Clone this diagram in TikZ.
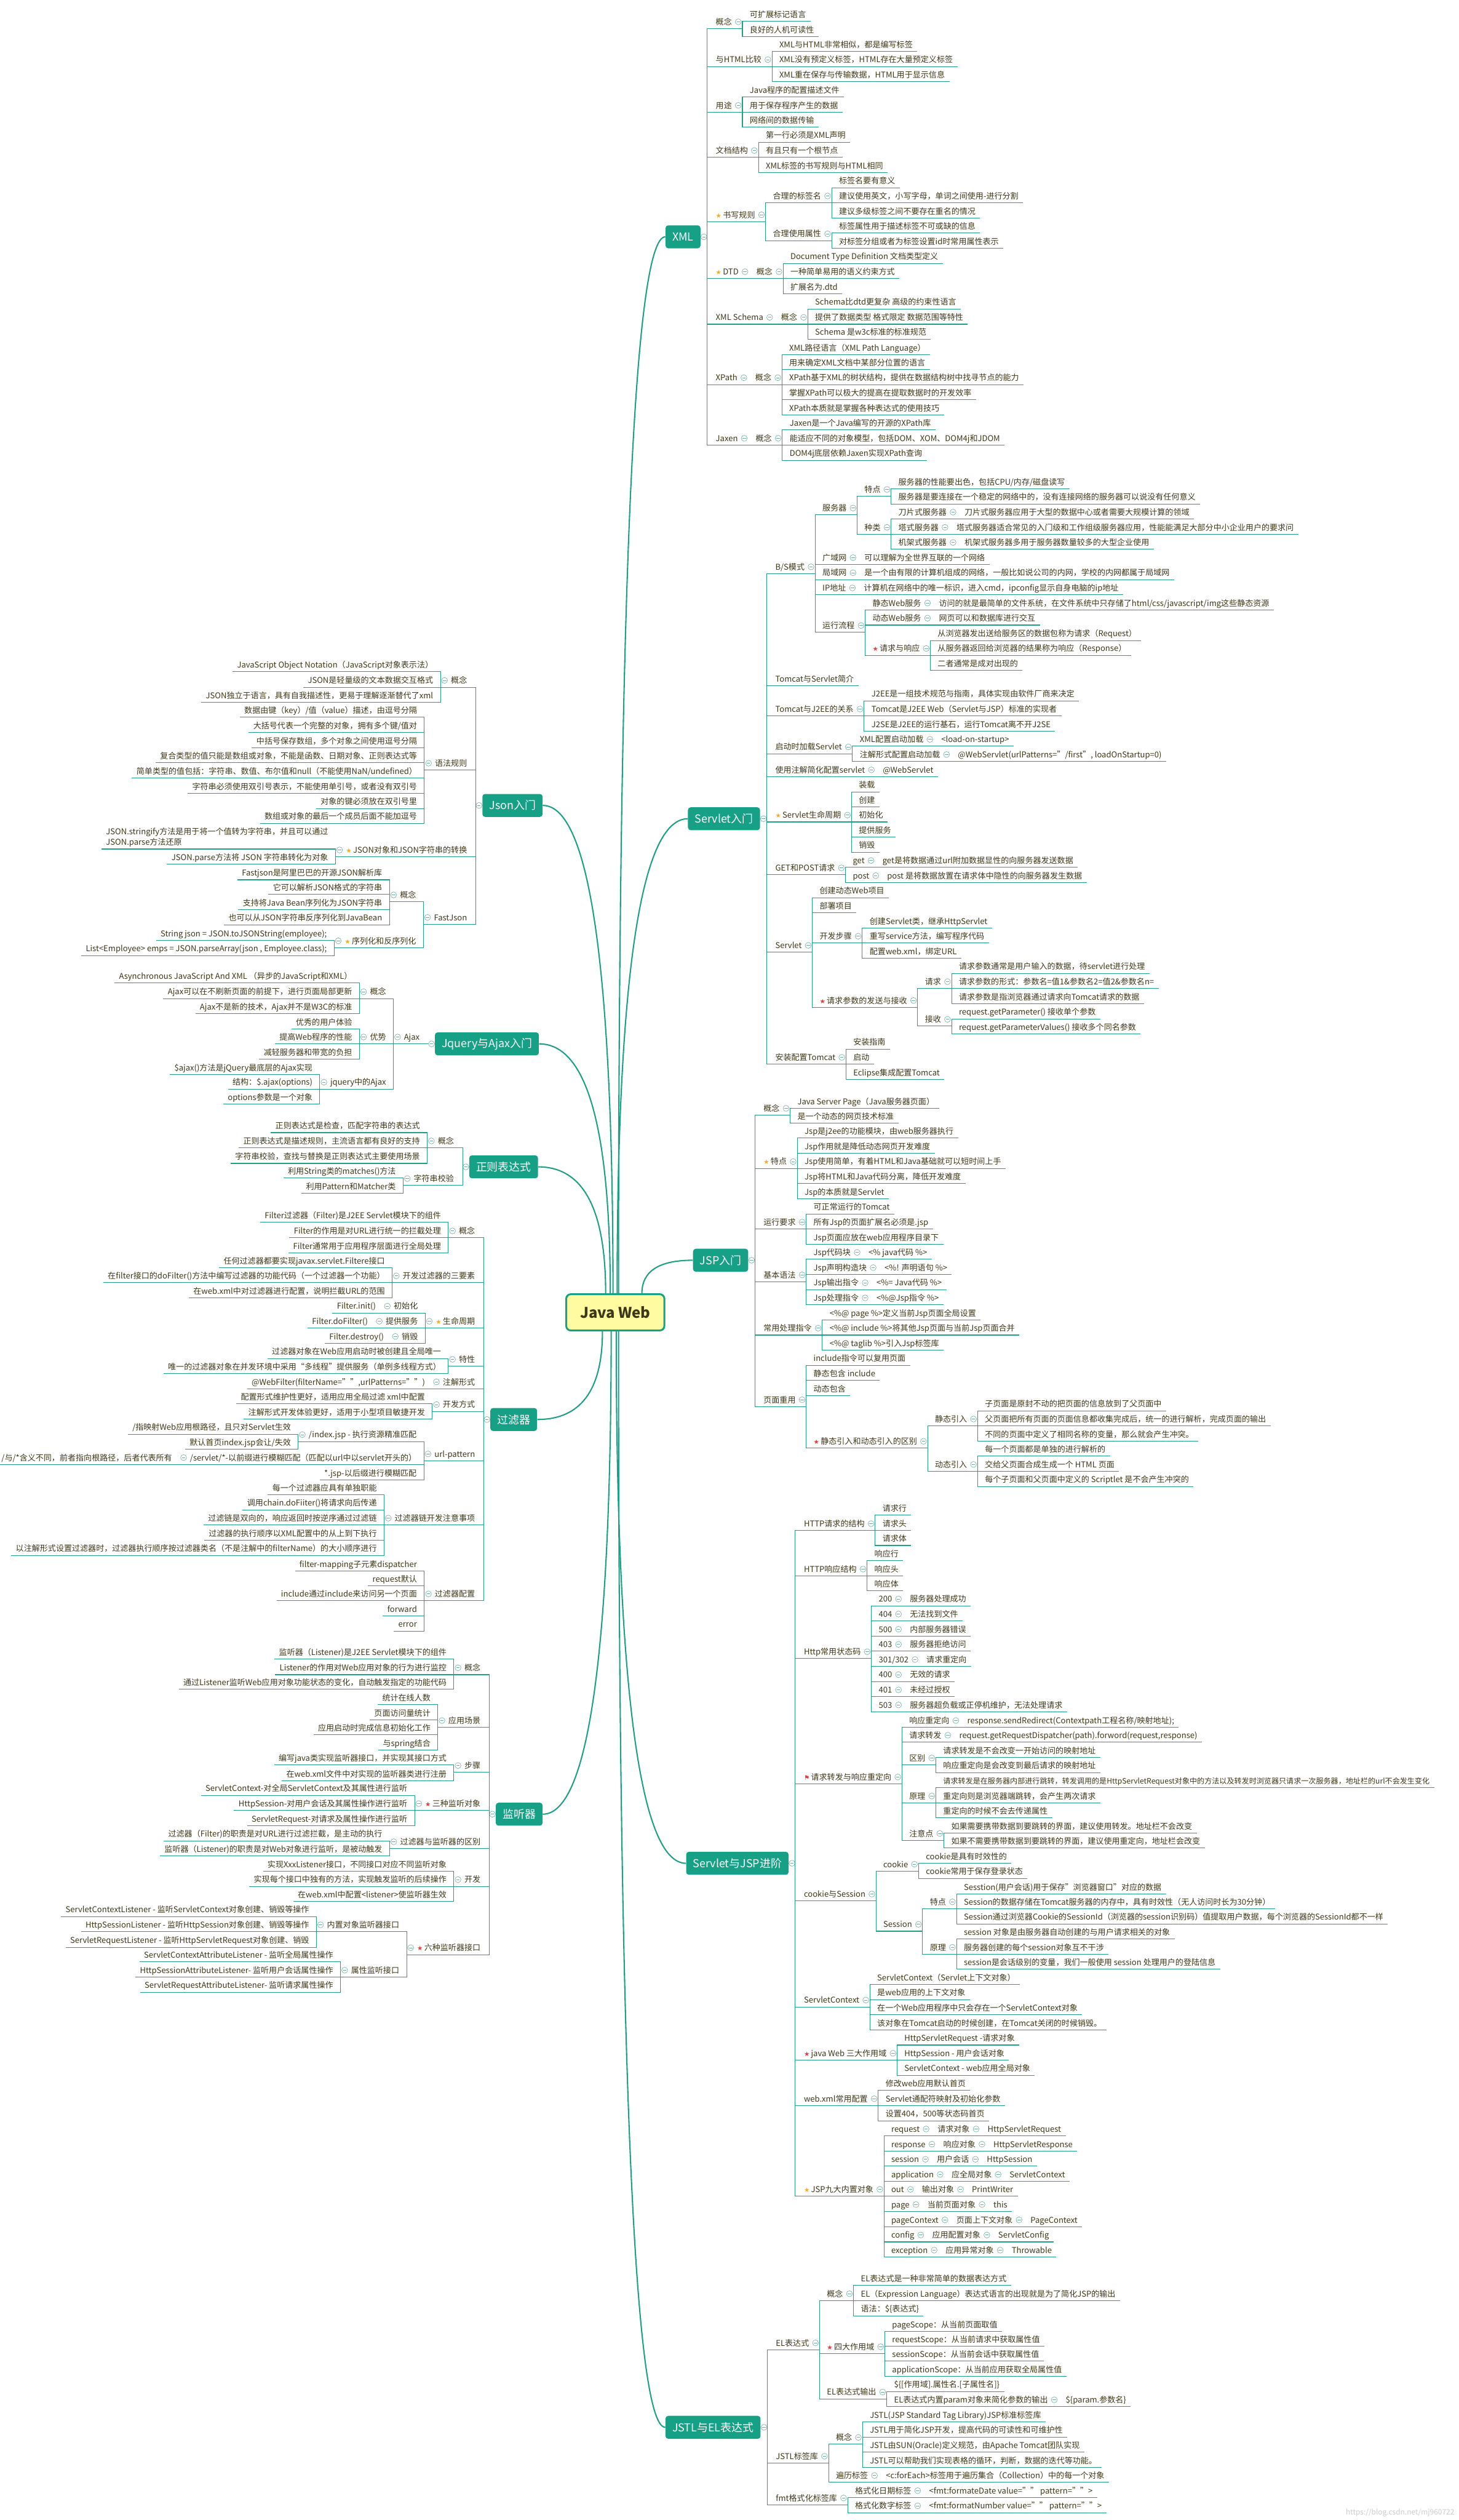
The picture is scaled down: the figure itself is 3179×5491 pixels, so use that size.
\documentclass[tikz,border=0pt]{standalone}
\usepackage{fontspec}
\setmainfont{Noto Sans CJK SC}
\newfontfamily\symfont{DejaVu Sans}
\usetikzlibrary{calc}
\definecolor{boxc}{RGB}{22,160,133}
\definecolor{lnc}{RGB}{30,160,135}
\definecolor{txc}{RGB}{62,56,26}
\definecolor{cenfill}{RGB}{255,251,160}
\definecolor{cirl}{RGB}{110,172,160}
\definecolor{starO}{RGB}{246,170,30}
\definecolor{starR}{RGB}{230,60,60}
\newcommand\StarO{{\symfont\fontsize{7pt}{8pt}\selectfont\color{starO}★}\hspace{1.5pt}}
\newcommand\StarR{{\symfont\fontsize{7pt}{8pt}\selectfont\color{starR}★}\hspace{1.5pt}}
\newcommand\FlagR{{\symfont\fontsize{7pt}{8pt}\selectfont\color{starR}⚑}\hspace{1.5pt}}
\tikzset{
  txt/.style={inner sep=0pt, outer sep=0pt, text=txc, font=\fontsize{8.75pt}{11.8pt}\selectfont},
  uline/.style={draw=lnc, line width=0.7pt},
  curv/.style={draw=lnc, line width=1.4pt},
  circ/.style={circle, draw=cirl, fill=white, line width=0.4pt, minimum size=6.5pt, inner sep=0pt,
     path picture={\draw[cirl, line width=0.45pt] ([xshift=1.4pt]path picture bounding box.west) -- ([xshift=-1.4pt]path picture bounding box.east);}},
  brbox/.style={rounded corners=3pt, fill=boxc, text=white, font=\fontsize{12pt}{14pt}\selectfont, minimum height=25pt, inner xsep=7.5pt, inner ysep=0pt},
  hub/.style={draw=boxc, line width=2pt, fill=cenfill, rounded corners=5pt, minimum width=107pt, minimum height=39.5pt, font=\bfseries\fontsize{16pt}{18pt}\selectfont, text=txc}
}
% right side
\newcommand\RBox[4]{%
  \node[brbox, anchor=west] (#1) at (#2,#3) {#4};
  \draw[uline] (#1.east) -- ++(14,0) coordinate (#1-j);
  \node[circ] (#1-c) at ($(#1.east)+(7,0)$) {};
  \coordinate (#1-tx) at ($(#1.east)+(33,0)$);}
\newcommand\RNode[4]{\node[txt, anchor=base west] (#1) at (#2-tx|-0,#3-8.4) {#4};}
\newcommand\RLe[4]{\RNode{#1}{#2}{#3}{#4}%
  \draw[uline] (#2-j) |- ($(#1.base east)+(10,8.4)$);}
\newcommand\RPa[4]{\RNode{#1}{#2}{#3}{#4}%
  \coordinate (#1-j) at ($(#1.base east)+(23,8.4)$);
  \coordinate (#1-tx) at ($(#1.base east)+(39,0)$);
  \draw[uline] (#2-j) |- (#1-j);
  \node[circ] (#1-c) at ($(#1.base east)+(14,-6.6)$) {};}
% left side
\newcommand\LBox[4]{%
  \node[brbox, anchor=east] (#1) at (#2,#3) {#4};
  \draw[uline] (#1.west) -- ++(-14,0) coordinate (#1-j);
  \node[circ] (#1-c) at ($(#1.west)+(-7,0)$) {};
  \coordinate (#1-tx) at ($(#1.west)+(-33,0)$);}
\newcommand\LNode[4]{\node[txt, anchor=base east] (#1) at (#2-tx|-0,#3-8.4) {#4};}
\newcommand\LLe[4]{\LNode{#1}{#2}{#3}{#4}%
  \draw[uline] (#2-j) |- ($(#1.base west)+(-10,8.4)$);}
\newcommand\LPa[4]{\LNode{#1}{#2}{#3}{#4}%
  \coordinate (#1-j) at ($(#1.base west)+(-23,8.4)$);
  \coordinate (#1-tx) at ($(#1.base west)+(-39,0)$);
  \draw[uline] (#2-j) |- (#1-j);
  \node[circ] (#1-c) at ($(#1.base west)+(-14,-6.6)$) {};}
\newcommand\Curve[2]{\draw[curv] (#1) .. controls ($(#1)!0.6667!(#1|-#2)$) and ($(#2)!0.6667!(#1|-#2)$) .. (#2);}
\begin{document}
\begin{tikzpicture}[x=0.5pt,y=-0.5pt]
\useasboundingbox (0,0) rectangle (3179,5491);
\fill[white] (0,0) rectangle (3179,5491);
% center
\node[hub] (jw) at (1341,2859.5) {Java Web};
\coordinate (t1) at ($(jw.north)+(7,0)$);
\coordinate (t2) at ($(jw.north)+(4,0)$);
\coordinate (t3) at ($(jw.north)+(58,0)$);
\coordinate (t4) at ($(jw.north)+(-5,0)$);
\coordinate (t5) at ($(jw.north)+(-11,0)$);
\coordinate (t6) at ($(jw.north)+(-21,0)$);
\coordinate (b1) at ($(jw.south)+(-28,0)$);
\coordinate (b2) at ($(jw.south)+(-9,0)$);
\coordinate (b3) at ($(jw.south)+(2,0)$);
\coordinate (b4) at ($(jw.south)+(7,0)$);

% ================= XML =================
\RBox{xml}{1450}{516}{XML}
\RPa{x1}{xml}{62.5}{概念}
 \RLe{x1a}{x1}{46}{可扩展标记语言}
 \RLe{x1b}{x1}{79.5}{良好的人机可读性}
\RPa{x2}{xml}{145}{与HTML比较}
 \RLe{x2a}{x2}{112}{XML与HTML非常相似，都是编写标签}
 \RLe{x2b}{x2}{145}{XML没有预定义标签，HTML存在大量预定义标签}
 \RLe{x2c}{x2}{178}{XML重在保存与传输数据，HTML用于显示信息}
\RPa{x3}{xml}{244.6}{用途}
 \RLe{x3a}{x3}{211}{Java程序的配置描述文件}
 \RLe{x3b}{x3}{244.6}{用于保存程序产生的数据}
 \RLe{x3c}{x3}{277}{网络间的数据传输}
\RPa{x4}{xml}{343}{文档结构}
 \RLe{x4a}{x4}{310}{第一行必须是XML声明}
 \RLe{x4b}{x4}{343}{有且只有一个根节点}
 \RLe{x4c}{x4}{376}{XML标签的书写规则与HTML相同}
\RPa{x5}{xml}{483}{\StarO 书写规则}
 \RPa{x5a}{x5}{442}{合理的标签名}
  \RLe{x5a1}{x5a}{409}{标签名要有意义}
  \RLe{x5a2}{x5a}{442}{建议使用英文，小写字母，单词之间使用-进行分割}
  \RLe{x5a3}{x5a}{475}{建议多级标签之间不要存在重名的情况}
 \RPa{x5b}{x5}{524.5}{合理使用属性}
  \RLe{x5b1}{x5b}{508}{标签属性用于描述标签不可或缺的信息}
  \RLe{x5b2}{x5b}{541}{对标签分组或者为标签设置id时常用属性表示}
\RPa{x6}{xml}{607}{\StarO DTD}
 \RPa{x6a}{x6}{607}{概念}
  \RLe{x6a1}{x6a}{574}{Document Type Definition 文档类型定义}
  \RLe{x6a2}{x6a}{607}{一种简单易用的语义约束方式}
  \RLe{x6a3}{x6a}{640}{扩展名为.dtd}
\RPa{x7}{xml}{706.5}{XML Schema}
 \RPa{x7a}{x7}{706.5}{概念}
  \RLe{x7a1}{x7a}{673}{Schema比dtd更复杂 高级的约束性语言}
  \RLe{x7a2}{x7a}{706.5}{提供了数据类型 格式限定 数据范围等特性}
  \RLe{x7a3}{x7a}{739}{Schema 是w3c标准的标准规范}
\RPa{x8}{xml}{838}{XPath}
 \RPa{x8a}{x8}{838}{概念}
  \RLe{x8a1}{x8a}{772.6}{XML路径语言（XML Path Language）}
  \RLe{x8a2}{x8a}{805}{用来确定XML文档中某部分位置的语言}
  \RLe{x8a3}{x8a}{838}{XPath基于XML的树状结构，提供在数据结构树中找寻节点的能力}
  \RLe{x8a4}{x8a}{871}{掌握XPath可以极大的提高在提取数据时的开发效率}
  \RLe{x8a5}{x8a}{904}{XPath本质就是掌握各种表达式的使用技巧}
\RPa{x9}{xml}{970}{Jaxen}
 \RPa{x9a}{x9}{970}{概念}
  \RLe{x9a1}{x9a}{937}{Jaxen是一个Java编写的开源的XPath库}
  \RLe{x9a2}{x9a}{970}{能适应不同的对象模型，包括DOM、XOM、DOM4j和JDOM}
  \RLe{x9a3}{x9a}{1003}{DOM4j底层依赖Jaxen实现XPath查询}

% ================= Servlet入门 =================
\RBox{srv}{1499}{1784}{Servlet入门}
\RPa{s1}{srv}{1250}{B/S模式}
 \RPa{s1a}{s1}{1122}{服务器}
  \RPa{s1a1}{s1a}{1081.5}{特点}
   \RLe{s1a1a}{s1a1}{1065}{服务器的性能要出色，包括CPU/内存/磁盘读写}
   \RLe{s1a1b}{s1a1}{1098}{服务器是要连接在一个稳定的网络中的，没有连接网络的服务器可以说没有任何意义}
  \RPa{s1a2}{s1a}{1164}{种类}
   \RPa{s1a2a}{s1a2}{1131}{刀片式服务器}
    \RLe{s1a2a1}{s1a2a}{1131}{刀片式服务器应用于大型的数据中心或者需要大规模计算的领域}
   \RPa{s1a2b}{s1a2}{1164}{塔式服务器}
    \RLe{s1a2b1}{s1a2b}{1164}{塔式服务器适合常见的入门级和工作组级服务器应用，性能能满足大部分中小企业用户的要求问}
   \RPa{s1a2c}{s1a2}{1197}{机架式服务器}
    \RLe{s1a2c1}{s1a2c}{1197}{机架式服务器多用于服务器数量较多的大型企业使用}
 \RPa{s1b}{s1}{1230}{广域网}
  \RLe{s1b1}{s1b}{1230}{可以理解为全世界互联的一个网络}
 \RPa{s1c}{s1}{1263}{局域网}
  \RLe{s1c1}{s1c}{1263}{是一个由有限的计算机组成的网络，一般比如说公司的内网，学校的内网都属于局域网}
 \RPa{s1d}{s1}{1296}{IP地址}
  \RLe{s1d1}{s1d}{1296}{计算机在网络中的唯一标识，进入cmd，ipconfig显示自身电脑的ip地址}
 \RPa{s1e}{s1}{1378}{运行流程}
  \RPa{s1e1}{s1e}{1329}{静态Web服务}
   \RLe{s1e1a}{s1e1}{1329}{访问的就是最简单的文件系统，在文件系统中只存储了html/css/javascript/img这些静态资源}
  \RPa{s1e2}{s1e}{1362}{动态Web服务}
   \RLe{s1e2a}{s1e2}{1362}{网页可以和数据库进行交互}
  \RPa{s1e3}{s1e}{1428}{\StarR 请求与响应}
   \RLe{s1e3a}{s1e3}{1395.6}{从浏览器发出送给服务区的数据包称为请求（Request）}
   \RLe{s1e3b}{s1e3}{1428}{从服务器返回给浏览器的结果称为响应（Response）}
   \RLe{s1e3c}{s1e3}{1461}{二者通常是成对出现的}
\RLe{s2}{srv}{1494}{Tomcat与Servlet简介}
\RPa{s3}{srv}{1560}{Tomcat与J2EE的关系}
 \RLe{s3a}{s3}{1527}{J2EE是一组技术规范与指南，具体实现由软件厂商来决定}
 \RLe{s3b}{s3}{1560}{Tomcat是J2EE Web（Servlet与JSP）标准的实现者}
 \RLe{s3c}{s3}{1593}{J2SE是J2EE的运行基石，运行Tomcat离不开J2SE}
\RPa{s4}{srv}{1642.5}{启动时加载Servlet}
 \RPa{s4a}{s4}{1626}{XML配置启动加载}
  \RLe{s4a1}{s4a}{1626}{<load-on-startup>}
 \RPa{s4b}{s4}{1659}{注解形式配置启动加载}
  \RLe{s4b1}{s4b}{1659}{@WebServlet(urlPatterns="/first", loadOnStartup=0)}
\RPa{s5}{srv}{1692.5}{使用注解简化配置servlet}
 \RLe{s5a}{s5}{1692.5}{@WebServlet}
\RPa{s6}{srv}{1791}{\StarO Servlet生命周期}
 \RLe{s6a}{s6}{1725.5}{装载}
 \RLe{s6b}{s6}{1758.5}{创建}
 \RLe{s6c}{s6}{1791}{初始化}
 \RLe{s6d}{s6}{1824}{提供服务}
 \RLe{s6e}{s6}{1857}{销毁}
\RPa{s7}{srv}{1906}{GET和POST请求}
 \RPa{s7a}{s7}{1890}{get}
  \RLe{s7a1}{s7a}{1890}{get是将数据通过url附加数据显性的向服务器发送数据}
 \RPa{s7b}{s7}{1923}{post}
  \RLe{s7b1}{s7b}{1923}{post 是将数据放置在请求体中隐性的向服务器发生数据}
\RPa{s8}{srv}{2075}{Servlet}
 \RLe{s8a}{s8}{1956}{创建动态Web项目}
 \RLe{s8b}{s8}{1989}{部署项目}
 \RPa{s8c}{s8}{2055}{开发步骤}
  \RLe{s8c1}{s8c}{2022}{创建Servlet类，继承HttpServlet}
  \RLe{s8c2}{s8c}{2055}{重写service方法，编写程序代码}
  \RLe{s8c3}{s8c}{2088}{配置web.xml，绑定URL}
 \RPa{s8d}{s8}{2195}{\StarR 请求参数的发送与接收}
  \RPa{s8d1}{s8d}{2154}{请求}
   \RLe{s8d1a}{s8d1}{2121}{请求参数通常是用户输入的数据，待servlet进行处理}
   \RLe{s8d1b}{s8d1}{2154}{请求参数的形式：参数名=值1\&参数名2=值2\&参数名n=}
   \RLe{s8d1c}{s8d1}{2187}{请求参数是指浏览器通过请求向Tomcat请求的数据}
  \RPa{s8d2}{s8d}{2236}{接收}
   \RLe{s8d2a}{s8d2}{2220}{request.getParameter() 接收单个参数}
   \RLe{s8d2b}{s8d2}{2253}{request.getParameterValues() 接收多个同名参数}
\RPa{s9}{srv}{2319}{安装配置Tomcat}
 \RLe{s9a}{s9}{2286}{安装指南}
 \RLe{s9b}{s9}{2319}{启动}
 \RLe{s9c}{s9}{2352}{Eclipse集成配置Tomcat}

% ================= JSP入门 =================
\RBox{jsp}{1510}{2746}{JSP入门}
\RPa{j1}{jsp}{2430}{概念}
 \RLe{j1a}{j1}{2415}{Java Server Page（Java服务器页面）}
 \RLe{j1b}{j1}{2447}{是一个动态的网页技术标准}
\RPa{j2}{jsp}{2546}{\StarO 特点}
 \RLe{j2a}{j2}{2480}{Jsp是j2ee的功能模块，由web服务器执行}
 \RLe{j2b}{j2}{2513}{Jsp作用就是降低动态网页开发难度}
 \RLe{j2c}{j2}{2546}{Jsp使用简单，有着HTML和Java基础就可以短时间上手}
 \RLe{j2d}{j2}{2579}{Jsp将HTML和Java代码分离，降低开发难度}
 \RLe{j2e}{j2}{2612}{Jsp的本质就是Servlet}
\RPa{j3}{jsp}{2678}{运行要求}
 \RLe{j3a}{j3}{2645}{可正常运行的Tomcat}
 \RLe{j3b}{j3}{2678}{所有Jsp的页面扩展名必须是.jsp}
 \RLe{j3c}{j3}{2711}{Jsp页面应放在web应用程序目录下}
\RPa{j4}{jsp}{2793}{基本语法}
 \RPa{j4a}{j4}{2744}{Jsp代码块}
  \RLe{j4a1}{j4a}{2744}{<\% java代码 \%>}
 \RPa{j4b}{j4}{2777}{Jsp声明构造块}
  \RLe{j4b1}{j4b}{2777}{<\%! 声明语句 \%>}
 \RPa{j4c}{j4}{2810}{Jsp输出指令}
  \RLe{j4c1}{j4c}{2810}{<\%= Java代码 \%>}
 \RPa{j4d}{j4}{2843}{Jsp处理指令}
  \RLe{j4d1}{j4d}{2843}{<\%@Jsp指令 \%>}
\RPa{j5}{jsp}{2909}{常用处理指令}
 \RLe{j5a}{j5}{2876}{<\%@ page \%>定义当前Jsp页面全局设置}
 \RLe{j5b}{j5}{2909}{<\%@ include \%>将其他Jsp页面与当前Jsp页面合并}
 \RLe{j5c}{j5}{2942}{<\%@ taglib \%>引入Jsp标签库}
\RPa{j6}{jsp}{3065}{页面重用}
 \RLe{j6a}{j6}{2975}{include指令可以复用页面}
 \RLe{j6b}{j6}{3008}{静态包含 include}
 \RLe{j6c}{j6}{3041}{动态包含}
 \RPa{j6d}{j6}{3155.5}{\StarR 静态引入和动态引入的区别}
  \RPa{j6d1}{j6d}{3107}{静态引入}
   \RLe{j6d1a}{j6d1}{3074}{子页面是原封不动的把页面的信息放到了父页面中}
   \RLe{j6d1b}{j6d1}{3107}{父页面把所有页面的页面信息都收集完成后，统一的进行解析，完成页面的输出}
   \RLe{j6d1c}{j6d1}{3140}{不同的页面中定义了相同名称的变量，那么就会产生冲突。}
  \RPa{j6d2}{j6d}{3206}{动态引入}
   \RLe{j6d2a}{j6d2}{3173}{每一个页面都是单独的进行解析的}
   \RLe{j6d2b}{j6d2}{3206}{交给父页面合成生成一个 HTML 页面}
   \RLe{j6d2c}{j6d2}{3239}{每个子页面和父页面中定义的 Scriptlet 是不会产生冲突的}

% ================= Servlet与JSP进阶 =================
\RBox{adv}{1495}{4060}{Servlet与JSP进阶}
\RPa{a1}{adv}{3335}{HTTP请求的结构}
 \RLe{a1a}{a1}{3301.5}{请求行}
 \RLe{a1b}{a1}{3335}{请求头}
 \RLe{a1c}{a1}{3367.5}{请求体}
\RPa{a2}{adv}{3434}{HTTP响应结构}
 \RLe{a2a}{a2}{3400.6}{响应行}
 \RLe{a2b}{a2}{3434}{响应头}
 \RLe{a2c}{a2}{3466}{响应体}
\RPa{a3}{adv}{3614}{Http常用状态码}
 \RPa{a3a}{a3}{3499}{200}
  \RLe{a3a1}{a3a}{3499}{服务器处理成功}
 \RPa{a3b}{a3}{3532}{404}
  \RLe{a3b1}{a3b}{3532}{无法找到文件}
 \RPa{a3c}{a3}{3565}{500}
  \RLe{a3c1}{a3c}{3565}{内部服务器错误}
 \RPa{a3d}{a3}{3598}{403}
  \RLe{a3d1}{a3d}{3598}{服务器拒绝访问}
 \RPa{a3e}{a3}{3631}{301/302}
  \RLe{a3e1}{a3e}{3631}{请求重定向}
 \RPa{a3f}{a3}{3664}{400}
  \RLe{a3f1}{a3f}{3664}{无效的请求}
 \RPa{a3g}{a3}{3697}{401}
  \RLe{a3g1}{a3g}{3697}{未经过授权}
 \RPa{a3h}{a3}{3730}{503}
  \RLe{a3h1}{a3h}{3730}{服务器超负载或正停机维护，无法处理请求}
\RPa{a4}{adv}{3887}{\FlagR 请求转发与响应重定向}
 \RPa{a4a}{a4}{3764}{响应重定向}
  \RLe{a4a1}{a4a}{3764}{response.sendRedirect(Contextpath工程名称/映射地址);}
 \RPa{a4b}{a4}{3796}{请求转发}
  \RLe{a4b1}{a4b}{3796}{request.getRequestDispatcher(path).forword(request,response)}
 \RPa{a4c}{a4}{3845.5}{区别}
  \RLe{a4c1}{a4c}{3829}{请求转发是不会改变一开始访问的映射地址}
  \RLe{a4c2}{a4c}{3862.5}{响应重定向是会改变到最后请求的映射地址}
 \RPa{a4d}{a4}{3928.5}{原理}
  \RLe{a4d1}{a4d}{3895}{\fontsize{8.1pt}{10pt}\selectfont 请求转发是在服务器内部进行跳转，转发调用的是HttpServletRequest对象中的方法以及转发时浏览器只请求一次服务器，地址栏的url不会发生变化}
  \RLe{a4d2}{a4d}{3928.5}{重定向则是浏览器端跳转，会产生两次请求}
  \RLe{a4d3}{a4d}{3961}{重定向的时候不会去传递属性}
 \RPa{a4e}{a4}{4010}{注意点}
  \RLe{a4e1}{a4e}{3994.6}{如果需要携带数据到要跳转的界面，建议使用转发。地址栏不会改变}
  \RLe{a4e2}{a4e}{4027}{如果不需要携带数据到要跳转的界面，建议使用重定向，地址栏会改变}
\RPa{a5}{adv}{4142}{cookie与Session}
 \RPa{a5a}{a5}{4077}{cookie}
  \RLe{a5a1}{a5a}{4060}{cookie是具有时效性的}
  \RLe{a5a2}{a5a}{4093}{cookie常用于保存登录状态}
 \RPa{a5b}{a5}{4208}{Session}
  \RPa{a5b1}{a5b}{4159}{特点}
   \RLe{a5b1a}{a5b1}{4127}{Sesstion(用户会话)用于保存"浏览器窗口"对应的数据}
   \RLe{a5b1b}{a5b1}{4159}{Session的数据存储在Tomcat服务器的内存中，具有时效性（无人访问时长为30分钟）}
   \RLe{a5b1c}{a5b1}{4192}{Session通过浏览器Cookie的SessionId（浏览器的session识别码）值提取用户数据，每个浏览器的SessionId都不一样}
  \RPa{a5b2}{a5b}{4258}{原理}
   \RLe{a5b2a}{a5b2}{4225}{session 对象是由服务器自动创建的与用户请求相关的对象}
   \RLe{a5b2b}{a5b2}{4258}{服务器创建的每个session对象互不干涉}
   \RLe{a5b2c}{a5b2}{4291}{session是会话级别的变量，我们一般使用 session 处理用户的登陆信息}
\RPa{a6}{adv}{4373}{ServletContext}
 \RLe{a6a}{a6}{4324}{ServletContext（Servlet上下文对象）}
 \RLe{a6b}{a6}{4357}{是web应用的上下文对象}
 \RLe{a6c}{a6}{4390}{在一个Web应用程序中只会存在一个ServletContext对象}
 \RLe{a6d}{a6}{4423}{该对象在Tomcat启动的时候创建，在Tomcat关闭的时候销毁。}
\RPa{a7}{adv}{4489}{\StarR java Web 三大作用域}
 \RLe{a7a}{a7}{4456}{HttpServletRequest -请求对象}
 \RLe{a7b}{a7}{4489}{HttpSession - 用户会话对象}
 \RLe{a7c}{a7}{4522}{ServletContext - web应用全局对象}
\RPa{a8}{adv}{4588}{web.xml常用配置}
 \RLe{a8a}{a8}{4555}{修改web应用默认首页}
 \RLe{a8b}{a8}{4588}{Servlet通配符映射及初始化参数}
 \RLe{a8c}{a8}{4621}{设置404，500等状态码首页}
\RPa{a9}{adv}{4785.5}{\StarO JSP九大内置对象}
 \RPa{a9a}{a9}{4654}{request}
  \RPa{a9a1}{a9a}{4654}{请求对象}
   \RLe{a9a2}{a9a1}{4654}{HttpServletRequest}
 \RPa{a9b}{a9}{4687}{response}
  \RPa{a9b1}{a9b}{4687}{响应对象}
   \RLe{a9b2}{a9b1}{4687}{HttpServletResponse}
 \RPa{a9c}{a9}{4720}{session}
  \RPa{a9c1}{a9c}{4720}{用户会话}
   \RLe{a9c2}{a9c1}{4720}{HttpSession}
 \RPa{a9d}{a9}{4753}{application}
  \RPa{a9d1}{a9d}{4753}{应全局对象}
   \RLe{a9d2}{a9d1}{4753}{ServletContext}
 \RPa{a9e}{a9}{4785.5}{out}
  \RPa{a9e1}{a9e}{4785.5}{输出对象}
   \RLe{a9e2}{a9e1}{4785.5}{PrintWriter}
 \RPa{a9f}{a9}{4818.5}{page}
  \RPa{a9f1}{a9f}{4818.5}{当前页面对象}
   \RLe{a9f2}{a9f1}{4818.5}{this}
 \RPa{a9g}{a9}{4852}{pageContext}
  \RPa{a9g1}{a9g}{4852}{页面上下文对象}
   \RLe{a9g2}{a9g1}{4852}{PageContext}
 \RPa{a9h}{a9}{4885}{config}
  \RPa{a9h1}{a9h}{4885}{应用配置对象}
   \RLe{a9h2}{a9h1}{4885}{ServletConfig}
 \RPa{a9i}{a9}{4918}{exception}
  \RPa{a9i1}{a9i}{4918}{应用异常对象}
   \RLe{a9i2}{a9i1}{4918}{Throwable}

% ================= JSTL与EL表达式 =================
\RBox{jstl}{1450}{5289}{JSTL与EL表达式}
\RPa{e1}{jstl}{5120}{EL表达式}
 \RPa{e1a}{e1}{5013}{概念}
  \RLe{e1a1}{e1a}{4980}{EL表达式是一种非常简单的数据表达方式}
  \RLe{e1a2}{e1a}{5013}{EL（Expression Language）表达式语言的出现就是为了简化JSP的输出}
  \RLe{e1a3}{e1a}{5046}{语法：\$\{表达式\}}
 \RPa{e1b}{e1}{5128.5}{\StarR 四大作用域}
  \RLe{e1b1}{e1b}{5080}{pageScope：从当前页面取值}
  \RLe{e1b2}{e1b}{5112.5}{requestScope：从当前请求中获取属性值}
  \RLe{e1b3}{e1b}{5145}{sessionScope：从当前会话中获取属性值}
  \RLe{e1b4}{e1b}{5178}{applicationScope：从当前应用获取全局属性值}
 \RPa{e1c}{e1}{5227}{EL表达式输出}
  \RLe{e1c1}{e1c}{5211}{\$\{[作用域].属性名.[子属性名]\}}
  \RPa{e1c2}{e1c}{5244}{EL表达式内置param对象来简化参数的输出}
   \RLe{e1c3}{e1c2}{5244}{\$\{param.参数名\}}
\RPa{e2}{jstl}{5367}{JSTL标签库}
 \RPa{e2a}{e2}{5326}{概念}
  \RLe{e2a1}{e2a}{5277}{JSTL(JSP Standard Tag Library)JSP标准标签库}
  \RLe{e2a2}{e2a}{5310}{JSTL用于简化JSP开发，提高代码的可读性和可维护性}
  \RLe{e2a3}{e2a}{5343}{JSTL由SUN(Oracle)定义规范，由Apache Tomcat团队实现}
  \RLe{e2a4}{e2a}{5376}{JSTL可以帮助我们实现表格的循环，判断，数据的迭代等功能。}
 \RPa{e2b}{e2}{5409}{遍历标签}
  \RLe{e2b1}{e2b}{5409}{<c:forEach>标签用于遍历集合（Collection）中的每一个对象}
\RPa{e3}{jstl}{5458}{fmt格式化标签库}
 \RPa{e3a}{e3}{5442}{格式化日期标签}
  \RLe{e3a1}{e3a}{5442}{<fmt:formateDate value="" pattern="">}
 \RPa{e3b}{e3}{5475}{格式化数字标签}
  \RLe{e3b1}{e3b}{5475}{<fmt:formatNumber value="" pattern="">}

% ================= Json入门 =================
\LBox{json}{1183}{1755}{Json入门}
\LPa{J1}{json}{1497.6}{概念}
 \LLe{J1a}{J1}{1463.8}{JavaScript Object Notation（JavaScript对象表示法）}
 \LLe{J1b}{J1}{1497.6}{JSON是轻量级的文本数据交互格式}
 \LLe{J1c}{J1}{1530.7}{JSON独立于语言，具有自我描述性，更易于理解逐渐替代了xml}
\LPa{J2}{json}{1678}{语法规则}
 \LLe{J2a}{J2}{1563}{数据由键（key）/值（value）描述，由逗号分隔}
 \LLe{J2b}{J2}{1596}{大括号代表一个完整的对象，拥有多个键/值对}
 \LLe{J2c}{J2}{1629.6}{中括号保存数组，多个对象之间使用逗号分隔}
 \LLe{J2d}{J2}{1662}{复合类型的值只能是数组或对象，不能是函数、日期对象、正则表达式等}
 \LLe{J2e}{J2}{1695}{简单类型的值包括：字符串、数值、布尔值和null（不能使用NaN/undefined）}
 \LLe{J2f}{J2}{1728.5}{字符串必须使用双引号表示，不能使用单引号，或者没有双引号}
 \LLe{J2g}{J2}{1761.6}{对象的键必须放在双引号里}
 \LLe{J2h}{J2}{1794}{数组或对象的最后一个成员后面不能加逗号}
\LPa{J3}{json}{1867}{\StarO JSON对象和JSON字符串的转换}
 \node[txt, anchor=south east, align=left, text depth=2pt] (J3a) at (J3-tx|-0,1845.6) {JSON.stringify方法是用于将一个值转为字符串，并且可以通过\\JSON.parse方法还原};
 \draw[uline] (J3-j) |- ($(J3a.south west)+(-10,4.4)$);
 \LLe{J3b}{J3}{1883}{JSON.parse方法将 JSON 字符串转化为对象}
\LPa{J4}{json}{2014}{FastJson}
 \LPa{J4a}{J4}{1965}{概念}
  \LLe{J4a1}{J4a}{1917}{Fastjson是阿里巴巴的开源JSON解析库}
  \LLe{J4a2}{J4a}{1949}{它可以解析JSON格式的字符串}
  \LLe{J4a3}{J4a}{1982}{支持将Java Bean序列化为JSON字符串}
  \LLe{J4a4}{J4a}{2015}{也可以从JSON字符串反序列化到JavaBean}
 \LPa{J4b}{J4}{2065}{\StarO 序列化和反序列化}
  \LLe{J4b1}{J4b}{2049}{String json = JSON.toJSONString(employee);}
  \LLe{J4b2}{J4b}{2082}{List<Employee> emps = JSON.parseArray(json , Employee.class);}

% ================= Jquery与Ajax入门 =================
\LBox{jq}{1175}{2274.5}{Jquery与Ajax入门}
\LPa{q1}{jq}{2274.5}{Ajax}
 \LPa{q1a}{q1}{2176}{概念}
  \LLe{q1a1}{q1a}{2142}{Asynchronous JavaScript And XML （异步的JavaScript和XML）}
  \LLe{q1a2}{q1a}{2176}{Ajax可以在不刷新页面的前提下，进行页面局部更新}
  \LLe{q1a3}{q1a}{2209}{Ajax不是新的技术，Ajax并不是W3C的标准}
 \LPa{q1b}{q1}{2274.5}{优势}
  \LLe{q1b1}{q1b}{2242}{优秀的用户体验}
  \LLe{q1b2}{q1b}{2274.5}{提高Web程序的性能}
  \LLe{q1b3}{q1b}{2308}{减轻服务器和带宽的负担}
 \LPa{q1c}{q1}{2373}{jquery中的Ajax}
  \LLe{q1c1}{q1c}{2341}{\$ajax()方法是jQuery最底层的Ajax实现}
  \LLe{q1c2}{q1c}{2373}{结构：\$.ajax(options)}
  \LLe{q1c3}{q1c}{2406}{options参数是一个对象}

% ================= 正则表达式 =================
\LBox{re}{1173}{2542.5}{正则表达式}
\LPa{r1}{re}{2501}{概念}
 \LLe{r1a}{r1}{2468}{正则表达式是检查，匹配字符串的表达式}
 \LLe{r1b}{r1}{2501}{正则表达式是描述规则，主流语言都有良好的支持}
 \LLe{r1c}{r1}{2535}{字符串校验，查找与替换是正则表达式主要使用场景}
\LPa{r2}{re}{2583}{字符串校验}
 \LLe{r2a}{r2}{2567}{利用String类的matches()方法}
 \LLe{r2b}{r2}{2600}{利用Pattern和Matcher类}

% ================= 过滤器 =================
\LBox{flt}{1171}{3093}{过滤器}
\LPa{f1}{flt}{2697}{概念}
 \LLe{f1a}{f1}{2663}{Filter过滤器（Filter)是J2EE Servlet模块下的组件}
 \LLe{f1b}{f1}{2697}{Filter的作用是对URL进行统一的拦截处理}
 \LLe{f1c}{f1}{2730}{Filter通常用于应用程序层面进行全局处理}
\LPa{f2}{flt}{2795}{开发过滤器的三要素}
 \LLe{f2a}{f2}{2762}{任何过滤器都要实现javax.servlet.Filtere接口}
 \LLe{f2b}{f2}{2795}{在filter接口的doFilter()方法中编写过滤器的功能代码（一个过滤器一个功能）}
 \LLe{f2c}{f2}{2828}{在web.xml中对过滤器进行配置，说明拦截URL的范围}
\LPa{f3}{flt}{2894}{\StarO 生命周期}
 \LPa{f3a}{f3}{2861}{初始化}
  \LLe{f3a1}{f3a}{2861}{Filter.init()}
 \LPa{f3b}{f3}{2894}{提供服务}
  \LLe{f3b1}{f3b}{2894}{Filter.doFilter()}
 \LPa{f3c}{f3}{2927}{销毁}
  \LLe{f3c1}{f3c}{2927}{Filter.destroy()}
\LPa{f4}{flt}{2977}{特性}
 \LLe{f4a}{f4}{2960}{过滤器对象在Web应用启动时被创建且全局唯一}
 \LLe{f4b}{f4}{2993}{唯一的过滤器对象在并发环境中采用“多线程”提供服务（单例多线程方式）}
\LPa{f5}{flt}{3026}{注解形式}
 \LLe{f5a}{f5}{3026}{@WebFilter(filterName="",urlPatterns="")}
\LPa{f6}{flt}{3075.5}{开发方式}
 \LLe{f6a}{f6}{3059}{配置形式维护性更好，适用应用全局过滤 xml中配置}
 \LLe{f6b}{f6}{3092}{注解形式开发体验更好，适用于小型项目敏捷开发}
\LPa{f7}{flt}{3183}{url-pattern}
 \LPa{f7a}{f7}{3141}{/index.jsp - 执行资源精准匹配}
  \LLe{f7a1}{f7a}{3125}{/指映射Web应用根路径，且只对Servlet生效}
  \LLe{f7a2}{f7a}{3158}{默认首页index.jsp会让/失效}
 \LPa{f7b}{f7}{3191}{/servlet/*-以前缀进行模糊匹配（匹配以url中以servlet开头的）}
  \LLe{f7b1}{f7b}{3191}{/与/*含义不同，前者指向根路径，后者代表所有}
 \LLe{f7c}{f7}{3225}{*.jsp-以后缀进行模糊匹配}
\LPa{f8}{flt}{3323}{过滤器链开发注意事项}
 \LLe{f8a}{f8}{3257}{每一个过滤器应具有单独职能}
 \LLe{f8b}{f8}{3290}{调用chain.doFiiter()将请求向后传递}
 \LLe{f8c}{f8}{3323}{过滤链是双向的，响应返回时按逆序通过过滤链}
 \LLe{f8d}{f8}{3356}{过滤器的执行顺序以XML配置中的从上到下执行}
 \LLe{f8e}{f8}{3389}{以注解形式设置过滤器时，过滤器执行顺序按过滤器类名（不是注解中的filterName）的大小顺序进行}
\LPa{f9}{flt}{3488}{过滤器配置}
 \LLe{f9a}{f9}{3423}{filter-mapping子元素dispatcher}
 \LLe{f9b}{f9}{3455.5}{request默认}
 \LLe{f9c}{f9}{3488}{include通过include来访问另一个页面}
 \LLe{f9d}{f9}{3521}{forward}
 \LLe{f9e}{f9}{3554}{error}

% ================= 监听器 =================
\LBox{lsn}{1183}{3953}{监听器}
\LPa{l1}{lsn}{3649}{概念}
 \LLe{l1a}{l1}{3615}{监听器（Listener)是J2EE Servlet模块下的组件}
 \LLe{l1b}{l1}{3649}{Listener的作用对Web应用对象的行为进行监控}
 \LLe{l1c}{l1}{3681}{通过Listener监听Web应用对象功能状态的变化，自动触发指定的功能代码}
\LPa{l2}{lsn}{3764}{应用场景}
 \LLe{l2a}{l2}{3714}{统计在线人数}
 \LLe{l2b}{l2}{3748}{页面访问量统计}
 \LLe{l2c}{l2}{3780}{应用启动时完成信息初始化工作}
 \LLe{l2d}{l2}{3813}{与spring结合}
\LPa{l3}{lsn}{3862}{步骤}
 \LLe{l3a}{l3}{3846}{编写java类实现监听器接口，并实现其接口方式}
 \LLe{l3b}{l3}{3880}{在web.xml文件中对实现的监听器类进行注册}
\LPa{l4}{lsn}{3945}{\StarR 三种监听对象}
 \LLe{l4a}{l4}{3912}{ServletContext-对全局ServletContext及其属性进行监听}
 \LLe{l4b}{l4}{3945}{HttpSession-对用户会话及其属性操作进行监听}
 \LLe{l4c}{l4}{3978}{ServletRequest-对请求及属性操作进行监听}
\LPa{l5}{lsn}{4028}{过滤器与监听器的区别}
 \LLe{l5a}{l5}{4011}{过滤器（Filter)的职责是对URL进行过滤拦截，是主动的执行}
 \LLe{l5b}{l5}{4044}{监听器（Listener)的职责是对Web对象进行监听，是被动触发}
\LPa{l6}{lsn}{4110.5}{开发}
 \LLe{l6a}{l6}{4077}{实现XxxListener接口，不同接口对应不同监听对象}
 \LLe{l6b}{l6}{4110.5}{实现每个接口中独有的方法，实现触发监听的后续操作}
 \LLe{l6c}{l6}{4143}{在web.xml中配置<listener>使监听器生效}
\LPa{l7}{lsn}{4259}{\StarR 六种监听器接口}
 \LPa{l7a}{l7}{4209}{内置对象监听器接口}
  \LLe{l7a1}{l7a}{4176}{ServletContextListener - 监听ServletContext对象创建、销毁等操作}
  \LLe{l7a2}{l7a}{4209}{HttpSessionListener - 监听HttpSession对象创建、销毁等操作}
  \LLe{l7a3}{l7a}{4243}{ServletRequestListener - 监听HttpServletRequest对象创建、销毁}
 \LPa{l7b}{l7}{4308}{属性监听接口}
  \LLe{l7b1}{l7b}{4275}{ServletContextAttributeListener - 监听全局属性操作}
  \LLe{l7b2}{l7b}{4308}{HttpSessionAttributeListener- 监听用户会话属性操作}
  \LLe{l7b3}{l7b}{4341}{ServletRequestAttributeListener- 监听请求属性操作}

% ================= curves =================
\Curve{t1}{xml.west}
\Curve{t2}{srv.west}
\Curve{t3}{jsp.west}
\Curve{t4}{json.east}
\Curve{t5}{jq.east}
\Curve{t6}{re.east}
\Curve{b1}{flt.east}
\Curve{b2}{lsn.east}
\Curve{b3}{adv.west}
\Curve{b4}{jstl.west}

\node[anchor=east, text=black!20, font=\fontsize{8pt}{9pt}\selectfont, inner sep=0pt] (wm) at (3170,5475) {https://blog.csdn.net/mj960722};
\end{tikzpicture}
\end{document}
